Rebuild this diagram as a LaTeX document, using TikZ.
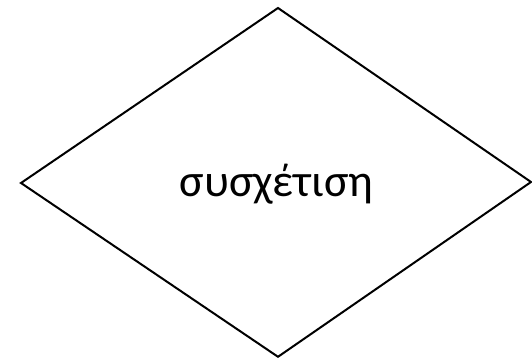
\documentclass[tikz,border=0pt]{standalone}
\usepackage{fontspec}
\setmainfont{Carlito}
\begin{document}
\begin{tikzpicture}[x=1pt,y=1pt,
  shapeline/.style={draw=black,line width=2pt,line join=miter}]
\useasboundingbox (0,0) rectangle (532,358);
\coordinate (t) at (278,350);
\coordinate (l) at (21,175);
\coordinate (r) at (531,176);
\coordinate (b) at (278,1.2);
\draw[shapeline] (t) -- (r) -- (b) -- (l) -- cycle;
\node[font=\fontsize{46}{54}\selectfont,anchor=base,inner sep=0pt] (lbl) at (276.5,161) {συσχέτιση};
\end{tikzpicture}
\end{document}
